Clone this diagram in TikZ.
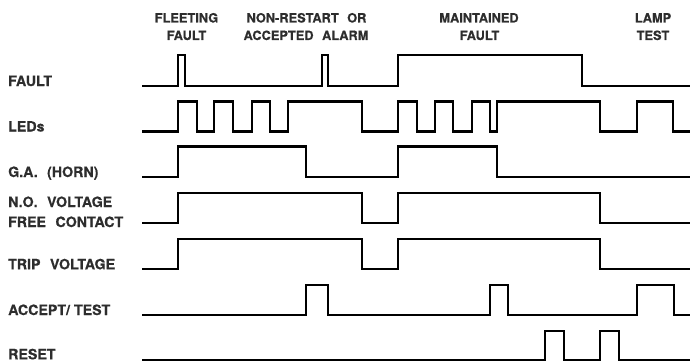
\documentclass[tikz,border=0pt]{standalone}
\usepackage{fontspec}
\setmainfont{TeX Gyre Heros}[WordSpace=2.4, BoldFeatures={FakeBold=0.5}]
\definecolor{txt}{RGB}{45,45,45}
\begin{document}
\begin{tikzpicture}[x=1pt,y=-1pt,
  trace/.style={line width=2.3pt, line join=miter, black},
  lbl/.style={anchor=base west, inner sep=0pt, text=txt, font=\fontsize{14.2}{16}\selectfont\bfseries},
  hdr/.style={anchor=base, inner sep=0pt, text=txt, font=\fontsize{12.8}{15}\selectfont\bfseries}]
\useasboundingbox (0,0) rectangle (690,361);
% header texts
\node[hdr] (h1a) at (186.5,22.5) {FLEETING};
\node[hdr] (h1b) at (186.5,40) {FAULT};
\node[hdr] (h2a) at (306.5,22.5) {NON-RESTART OR};
\node[hdr] (h2b) at (306,40) {ACCEPTED ALARM};
\node[hdr] (h3a) at (479,22.5) {MAINTAINED};
\node[hdr] (h3b) at (479.5,40) {FAULT};
\node[hdr] (h4a) at (653,22.5) {LAMP};
\node[hdr] (h4b) at (653,40) {TEST};
% row labels
\node[lbl] (l1) at (8,86) {FAULT};
\node[lbl] (l2) at (8,131.5) {LEDs};
\node[lbl] (l3) at (8,177) {G.A. (HORN)};
\node[lbl] (l4a) at (8,207) {N.O. VOLTAGE};
\node[lbl] (l4b) at (8,227) {FREE CONTACT};
\node[lbl] (l5) at (8,269.3) {TRIP VOLTAGE};
\node[lbl] (l6) at (8,315) {ACCEPT/\kern4pt TEST};
\node[lbl] (l7) at (8,359.3) {RESET};
% traces
\draw[trace] (142,86) -| (178.3,55) -| (185,86) -| (321.7,55) -| (328.3,86) -| (398,55) -| (581.7,86) -- (690,86);
\draw[trace] (142,131.5) -| (177.7,101.5) -| (196.7,131.5) -| (214,101.5) -| (233.3,131.5) -| (251.7,101.5) -| (270,131.5) -| (288.3,101.5) -| (361.7,131.5) -| (398.3,101.5) -| (416.7,131.5) -| (435,101.5) -| (453.3,131.5) -| (471.7,101.5) -| (490,131.5) -| (496.7,101.5) -| (600,131.5) -| (636.7,101.5) -| (673.3,131.5) -- (690,131.5);
\draw[trace] (142,176.7) -| (177.7,146.5) -| (306,176.7) -| (398.3,146.5) -| (497.3,176.7) -- (690,176.7);
\draw[trace] (142,222.7) -| (177.7,192.7) -| (361.7,222.7) -| (397.7,192.7) -| (600,222.7) -- (690,222.7);
\draw[trace] (142,269.3) -| (177.7,239) -| (361.7,269.3) -| (397.7,239) -| (600,269.3) -- (690,269.3);
\draw[trace] (142,315) -| (306,285) -| (328.3,315) -| (490,285) -| (508.3,315) -| (636.7,285) -| (674,315) -- (690,315);
\draw[trace] (142,359.8) -| (545,331) -| (564,359.8) -| (600,331) -| (619,359.8) -- (690,359.8);
\end{tikzpicture}
\end{document}
